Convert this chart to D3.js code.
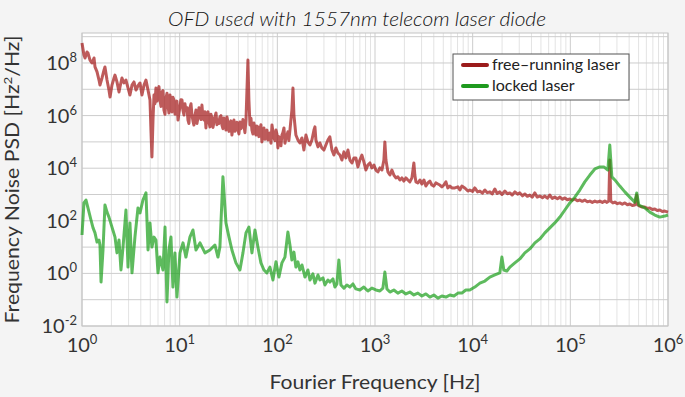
<!DOCTYPE html>
<meta charset="utf-8">
<script src="https://d3js.org/d3.v7.min.js"></script>
<style>
  body { margin: 0; background: #f4f4f4; }
  text { font-family: Lato, "Open Sans", sans-serif; fill: #333; }
</style>
<body>
<div id="chart"></div>
<script>

// values, as [log10 frequency in Hz, log10 PSD in Hz^2/Hz]
var freeRunning = [
  [0.000,8.76],[0.020,8.30],[0.031,8.19],[0.051,8.42],[0.061,8.38],[0.082,8.11],[0.102,8.00],[0.123,8.19],
  [0.133,7.85],[0.154,7.66],[0.174,7.35],[0.184,7.16],[0.205,7.43],[0.225,7.73],[0.235,7.85],[0.256,7.35],
  [0.276,6.97],[0.287,6.71],[0.307,7.16],[0.328,7.43],[0.338,7.54],[0.358,7.28],[0.379,6.90],[0.389,7.09],
  [0.409,7.43],[0.430,7.24],[0.450,7.35],[0.471,7.05],[0.491,6.78],[0.512,7.16],[0.532,7.28],[0.553,6.97],
  [0.573,7.13],[0.594,7.24],[0.614,6.78],[0.635,7.16],[0.655,7.35],[0.676,6.97],[0.696,6.59],[0.706,5.45],
  [0.716,4.43],[0.727,5.83],
  [0.737,6.78],[0.747,6.45],[0.757,7.05],[0.768,6.55],[0.778,6.97],[0.788,7.10],[0.798,6.59],[0.809,6.35],
  [0.819,6.90],[0.829,6.95],[0.839,6.21],[0.850,6.05],[0.860,6.67],[0.870,6.85],[0.880,6.40],[0.890,6.10],
  [0.901,6.78],[0.911,6.50],[0.921,6.14],[0.931,6.70],[0.942,6.59],[0.952,6.05],[0.962,6.29],[0.972,6.55],
  [0.983,5.83],[0.993,6.10],[1.003,6.33],[1.013,6.60],[1.024,6.59],[1.034,6.20],[1.044,6.02],[1.054,6.45],
  [1.064,6.21],[1.075,6.30],[1.085,5.83],[1.095,5.70],[1.105,6.29],[1.116,6.45],[1.126,6.02],[1.136,5.80],
  [1.146,5.64],[1.157,6.00],[1.167,6.21],[1.177,5.70],[1.187,5.91],[1.198,6.30],[1.208,6.10],[1.218,5.85],
  [1.228,6.40],[1.238,5.95],[1.249,5.83],[1.259,6.15],[1.269,5.53],[1.279,6.05],[1.290,6.14],[1.300,5.75],
  [1.310,5.57],[1.320,6.05],[1.331,5.91],[1.341,5.55],[1.351,5.76],[1.361,5.95],[1.372,6.10],[1.382,5.65],
  [1.392,5.83],[1.402,5.70],[1.412,5.95],[1.423,6.00],[1.433,5.64],[1.443,5.50],[1.453,5.91],[1.464,5.80],
  [1.474,5.45],[1.484,5.95],[1.494,5.76],[1.505,5.40],[1.515,5.64],[1.525,5.80],[1.535,5.26],[1.545,5.55],
  [1.556,5.83],[1.566,5.40],[1.576,5.53],[1.586,5.75],[1.597,5.45],[1.607,5.30],[1.617,5.76],[1.627,5.50],
  [1.638,5.57],[1.648,5.85],[1.658,5.64],[1.668,5.35],[1.679,5.83],[1.689,6.97],[1.699,8.11],[1.709,6.59],
  [1.720,5.64],[1.730,5.90],[1.740,5.45],[1.750,5.30],[1.760,5.72],[1.770,5.50],[1.781,5.26],[1.791,5.60],
  [1.801,5.57],[1.811,5.20],[1.822,5.45],[1.832,5.65],[1.842,5.00],[1.852,5.30],[1.863,5.53],[1.873,5.10],
  [1.883,5.34],[1.894,5.45],[1.904,5.07],[1.914,5.20],[1.924,5.34],[1.935,4.95],[1.945,5.64],[1.955,5.40],
  [1.965,5.15],[1.976,5.05],[1.986,5.45],[1.996,5.30],[2.006,4.77],[2.016,5.20],[2.027,5.07],[2.037,4.85],
  [2.047,5.26],[2.057,5.35],[2.068,5.53],[2.078,4.95],[2.088,5.15],[2.098,5.25],[2.108,5.38],[2.118,5.05],
  [2.129,5.45],[2.149,6.21],[2.160,7.05],[2.170,6.02],[2.190,5.26],[2.211,5.07],[2.231,4.96],[2.252,5.15],
  [2.272,4.69],[2.293,5.26],[2.313,5.00],[2.334,4.88],[2.354,5.07],[2.375,5.45],[2.385,5.57],[2.395,5.07],
  [2.416,4.81],[2.436,4.96],[2.456,4.77],[2.477,4.69],[2.497,4.88],[2.518,5.07],[2.538,5.19],[2.559,4.69],
  [2.579,4.50],[2.600,4.77],[2.620,4.58],[2.641,4.50],[2.661,4.31],[2.682,4.62],[2.702,4.39],[2.723,4.69],
  [2.743,4.31],[2.764,4.20],[2.784,4.39],[2.804,4.39],[2.825,4.05],[2.845,4.31],[2.866,4.50],[2.886,4.24],
  [2.907,3.93],[2.927,4.12],[2.948,4.20],[2.968,4.01],[2.989,4.12],[3.009,3.93],[3.030,3.86],[3.050,4.01],
  [3.071,3.93],[3.091,4.31],[3.101,5.00],[3.112,4.31],[3.132,3.86],[3.153,3.74],[3.173,3.93],[3.193,3.74],
  [3.214,3.63],[3.234,3.67],[3.255,3.55],[3.275,3.63],[3.296,3.51],[3.316,3.63],[3.337,3.55],[3.357,3.48],
  [3.378,3.63],[3.398,4.20],[3.408,3.74],[3.419,3.48],[3.439,3.44],[3.460,3.55],[3.480,3.40],[3.501,3.55],
  [3.521,3.32],[3.541,3.44],[3.562,3.51],[3.582,3.36],[3.603,3.32],[3.623,3.44],[3.644,3.40],[3.664,3.36],
  [3.685,3.29],[3.705,3.36],[3.726,3.48],[3.746,3.25],[3.767,3.32],[3.787,3.25],[3.818,3.25],[3.849,3.29],
  [3.869,3.17],[3.889,3.32],[3.920,3.25],[3.951,3.13],[3.971,3.17],[4.000,3.12],[4.022,3.25],[4.050,3.10],
  [4.074,3.13],[4.100,3.05],[4.125,3.17],[4.150,3.07],[4.176,3.10],[4.200,3.02],[4.227,3.21],[4.250,3.04],
  [4.278,3.10],[4.300,3.00],[4.330,3.13],[4.355,3.03],[4.381,3.06],[4.405,2.98],[4.432,3.10],[4.460,3.01],
  [4.483,3.06],[4.510,2.95],[4.534,3.02],[4.560,2.93],[4.585,2.98],[4.610,2.90],[4.637,3.06],[4.660,2.90],
  [4.688,2.94],[4.715,2.88],[4.739,2.94],[4.765,2.86],[4.790,2.98],[4.815,2.85],[4.841,2.90],[4.868,2.84],
  [4.893,2.90],[4.920,2.82],[4.944,2.87],[4.970,2.80],[4.995,2.83],[5.020,2.78],[5.046,2.83],[5.072,2.76],
  [5.097,2.79],[5.122,2.74],[5.148,2.79],[5.175,2.72],[5.200,2.75],[5.225,2.70],[5.251,2.75],[5.276,2.71],
  [5.302,2.75],[5.328,2.70],[5.353,2.75],[5.375,2.70],[5.394,2.75],[5.404,4.31],[5.414,2.75],[5.436,2.68],
  [5.456,2.71],[5.482,2.65],[5.507,2.68],[5.532,2.63],[5.558,2.68],[5.584,2.61],[5.609,2.64],[5.635,2.58],
  [5.660,2.60],[5.680,2.98],[5.690,2.60],[5.711,2.56],[5.736,2.52],[5.762,2.52],[5.788,2.47],[5.814,2.49],
  [5.840,2.43],[5.865,2.45],[5.890,2.39],[5.916,2.41],[5.942,2.35],[5.967,2.37],[6.000,2.33]
];

var locked = [
  [0.000,1.46],[0.020,2.68],[0.041,2.79],[0.061,2.49],[0.092,2.03],[0.113,1.73],[0.133,1.54],[0.154,1.19],
  [0.174,1.27],[0.184,1.08],[0.195,-0.33],[0.215,0.89],[0.235,2.60],[0.256,2.33],[0.276,2.14],[0.307,1.76],
  [0.338,1.38],[0.358,0.78],[0.379,1.27],[0.399,0.13],[0.420,1.00],[0.450,2.41],[0.471,0.24],[0.491,1.92],
  [0.512,0.02],[0.542,1.38],[0.573,2.49],[0.594,2.30],[0.624,2.79],[0.655,3.06],[0.676,0.89],[0.696,1.92],
  [0.716,1.00],[0.737,1.38],[0.757,1.27],[0.778,0.02],[0.798,0.62],[0.829,0.13],[0.850,1.76],[0.870,-1.09],
  [0.890,0.89],[0.911,1.38],[0.931,-0.52],[0.952,0.78],[0.972,-0.90],[1.003,0.78],[1.034,1.16],[1.064,0.62],
  [1.105,1.38],[1.136,1.65],[1.167,0.89],[1.208,1.16],[1.259,0.78],[1.310,0.89],[1.361,1.08],[1.392,0.62],
  [1.412,1.00],[1.443,3.67],[1.474,1.92],[1.505,1.38],[1.535,0.89],[1.576,0.40],[1.617,0.13],[1.648,0.78],
  [1.679,1.54],[1.709,1.76],[1.740,0.78],[1.771,1.65],[1.801,1.00],[1.832,0.40],[1.863,0.13],[1.893,0.02],
  [1.924,0.24],[1.955,-0.25],[1.986,0.44],[2.016,-0.14],[2.047,0.40],[2.078,0.62],[2.108,1.57],[2.129,1.08],
  [2.149,0.51],[2.170,0.81],[2.190,0.24],[2.211,0.44],[2.231,0.13],[2.252,0.32],[2.283,-0.14],[2.313,0.13],
  [2.334,-0.25],[2.364,-0.02],[2.385,-0.37],[2.416,-0.06],[2.436,-0.25],[2.467,-0.17],[2.487,-0.44],[2.518,-0.25],
  [2.538,-0.33],[2.569,-0.21],[2.590,-0.52],[2.610,-0.40],[2.630,0.51],[2.651,-0.44],[2.682,-0.56],[2.712,-0.44],
  [2.743,-0.52],[2.774,-0.40],[2.804,-0.59],[2.845,-0.63],[2.886,-0.52],[2.927,-0.67],[2.968,-0.56],[3.009,-0.63],
  [3.050,-0.67],[3.081,-0.56],[3.101,0.05],[3.122,-0.59],[3.153,-0.71],[3.193,-0.63],[3.234,-0.75],[3.275,-0.67],
  [3.316,-0.78],[3.357,-0.71],[3.398,-0.82],[3.439,-0.75],[3.480,-0.86],[3.521,-0.78],[3.562,-0.90],[3.603,-0.82],
  [3.644,-0.94],[3.685,-0.86],[3.726,-0.90],[3.767,-0.82],[3.808,-0.86],[3.849,-0.75],[3.889,-0.75],[3.930,-0.63],
  [3.971,-0.63],[4.022,-0.52],[4.074,-0.37],[4.125,-0.29],[4.176,-0.14],[4.227,-0.06],[4.278,0.02],[4.299,0.62],
  [4.319,0.13],[4.350,0.09],[4.381,0.24],[4.432,0.40],[4.483,0.55],[4.534,0.78],[4.585,0.93],[4.637,1.16],
  [4.688,1.31],[4.739,1.54],[4.790,1.73],[4.841,1.92],[4.893,2.14],[4.944,2.41],[4.995,2.68],[5.046,2.90],
  [5.097,3.17],[5.148,3.48],[5.200,3.74],[5.251,3.97],[5.302,4.05],[5.343,4.05],[5.384,3.93],[5.404,4.88],
  [5.425,3.67],[5.466,3.51],[5.507,3.32],[5.558,3.10],[5.609,2.90],[5.660,2.71],[5.680,3.06],[5.701,2.60],
  [5.762,2.49],[5.814,2.33],[5.865,2.22],[5.916,2.14],[5.967,2.18],[6.000,2.22]
];

var xTickExp = [0, 1, 2, 3, 4, 5, 6];
var yTickExp = [-2, 0, 2, 4, 6, 8];
var seriesNames = ["free\u2013running laser", "locked laser"];

// set the dimensions and margins of the graph
var full_width = 685, full_height = 397;
var margin = {top: 33, right: 17, bottom: 71, left: 82},
    width = full_width - margin.left - margin.right,
    height = full_height - margin.top - margin.bottom;

var svg = d3.select("#chart")
  .append("svg")
    .attr("width", full_width)
    .attr("height", full_height);

var g = svg.append("g")
    .attr("transform", "translate(" + margin.left + "," + margin.top + ")");

var x = d3.scaleLog().domain([1, 1e6]).range([0, width]);
var y = d3.scaleLog().domain([1e-2, Math.pow(10, 9.14)]).range([height, 0]);

// plot background
g.append("rect")
    .attr("width", width)
    .attr("height", height)
    .attr("fill", "#ffffff");

// log grid, minor lines first then decades on top
var xGrid = x.ticks(), yGrid = y.ticks();
function isDecade(v) { return Math.abs(Math.log10(v) - Math.round(Math.log10(v))) < 1e-6; }

g.append("g").selectAll("line")
  .data(xGrid.filter(function(d){ return !isDecade(d); }))
  .enter().append("line")
    .attr("x1", function(d){ return x(d); }).attr("x2", function(d){ return x(d); })
    .attr("y1", 0).attr("y2", height)
    .attr("stroke", "#e3e3e3").attr("stroke-width", 1);

g.append("g").selectAll("line")
  .data(yGrid.filter(function(d){ return !isDecade(d); }))
  .enter().append("line")
    .attr("y1", function(d){ return y(d); }).attr("y2", function(d){ return y(d); })
    .attr("x1", 0).attr("x2", width)
    .attr("stroke", "#e3e3e3").attr("stroke-width", 1);

g.append("g").selectAll("line")
  .data(xGrid.filter(isDecade))
  .enter().append("line")
    .attr("x1", function(d){ return x(d); }).attr("x2", function(d){ return x(d); })
    .attr("y1", 0).attr("y2", height)
    .attr("stroke", "#cdcdcd").attr("stroke-width", 1);

g.append("g").selectAll("line")
  .data(yGrid.filter(isDecade))
  .enter().append("line")
    .attr("y1", function(d){ return y(d); }).attr("y2", function(d){ return y(d); })
    .attr("x1", 0).attr("x2", width)
    .attr("stroke", "#cdcdcd").attr("stroke-width", 1);

// frame
g.append("rect")
    .attr("width", width)
    .attr("height", height)
    .attr("fill", "none")
    .attr("stroke", "#c4c4c4");

// the two traces
var line = d3.line()
    .x(function(d){ return x(Math.pow(10, d[0])); })
    .y(function(d){ return y(Math.pow(10, d[1])); });

g.append("path")
    .datum(freeRunning)
    .attr("d", line)
    .attr("fill", "none")
    .attr("stroke", "#a31515")
    .attr("stroke-opacity", 0.7)
    .attr("stroke-width", 3)
    .attr("stroke-linejoin", "round");

g.append("path")
    .datum(locked)
    .attr("d", line)
    .attr("fill", "none")
    .attr("stroke", "#1a9e1a")
    .attr("stroke-opacity", 0.7)
    .attr("stroke-width", 3)
    .attr("stroke-linejoin", "round");

// tick labels as 10^n
var xLab = g.append("g").selectAll("text")
  .data(xTickExp)
  .enter().append("text")
    .attr("x", function(d){ return x(Math.pow(10, d)); })
    .attr("y", height + 26)
    .attr("text-anchor", "middle")
    .style("font-size", "20px");
xLab.append("tspan").text("10");
xLab.append("tspan").attr("dy", -8).style("font-size", "13px").text(function(d){ return d; });

var yLab = g.append("g").selectAll("text")
  .data(yTickExp)
  .enter().append("text")
    .attr("x", -5)
    .attr("y", function(d){ return y(Math.pow(10, d)) + 7; })
    .attr("text-anchor", "end")
    .style("font-size", "20px");
yLab.append("tspan").text("10");
yLab.append("tspan").attr("dy", -8).style("font-size", "13px").text(function(d){ return d < 0 ? "-" + (-d) : d; });

// axis titles
svg.append("text")
    .attr("x", margin.left + width / 2)
    .attr("y", 389)
    .attr("text-anchor", "middle")
    .attr("textLength", 211)
    .attr("lengthAdjust", "spacingAndGlyphs")
    .style("font-size", "20px")
    .text("Fourier Frequency [Hz]");

var yt = svg.append("text")
    .attr("transform", "translate(19," + (margin.top + height / 2) + ") rotate(-90)")
    .attr("text-anchor", "middle")
    .attr("textLength", 288)
    .attr("lengthAdjust", "spacingAndGlyphs")
    .style("font-size", "19px");
yt.append("tspan").text("Frequency Noise PSD [Hz");
yt.append("tspan").attr("dy", -7).style("font-size", "12px").text("2");
yt.append("tspan").attr("dy", 7).text("/Hz]");

// title
svg.append("text")
    .attr("x", 357)
    .attr("y", 26)
    .attr("text-anchor", "middle")
    .attr("textLength", 378)
    .attr("lengthAdjust", "spacingAndGlyphs")
    .style("font-size", "19px")
    .style("font-style", "italic")
    .style("font-weight", 300)
    .style("fill", "#111")
    .text("OFD used with 1557nm telecom laser diode");

// legend
var legend = svg.append("g").attr("transform", "translate(453,54)");
legend.append("rect")
    .attr("width", 176).attr("height", 46)
    .attr("fill", "#ffffff").attr("stroke", "#555").attr("stroke-width", 1);
var legendColors = ["#9b1b1b", "#1f9a1f"];
seriesNames.forEach(function(name, i){
  legend.append("line")
    .attr("x1", 10).attr("x2", 34)
    .attr("y1", 11 + i * 21).attr("y2", 11 + i * 21)
    .attr("stroke", legendColors[i]).attr("stroke-width", 4)
    .attr("stroke-linecap", "round");
  legend.append("text")
    .attr("x", 39).attr("y", 16 + i * 21)
    .style("font-size", "16px")
    .style("fill", "#222")
    .text(name);
});

</script>
</body>
